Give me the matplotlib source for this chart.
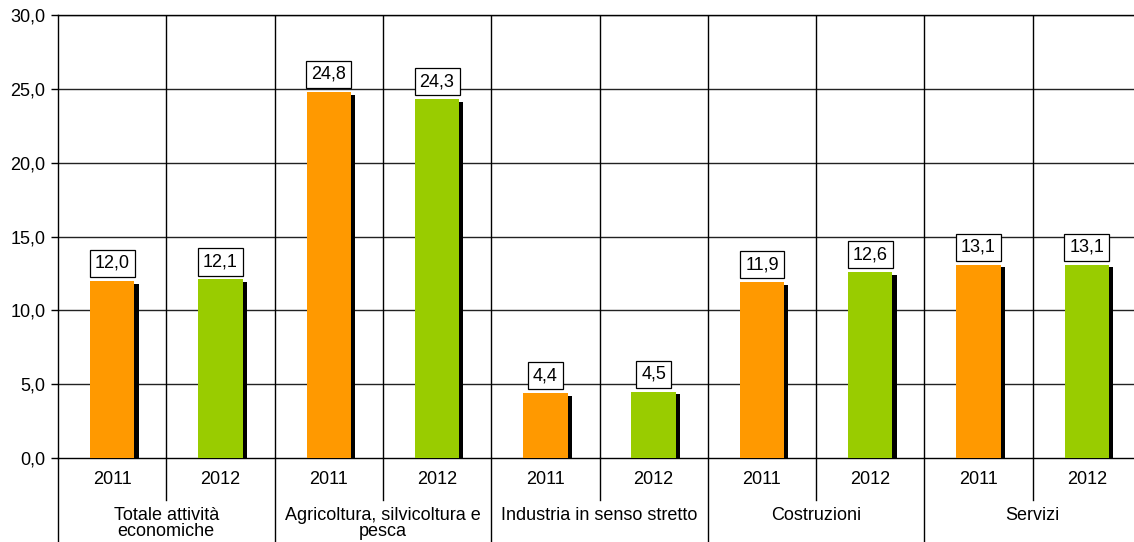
import numpy as np
import matplotlib
matplotlib.use('Agg')
import matplotlib.pyplot as plt
import matplotlib.patheffects as pe
import matplotlib.transforms as mtransforms

categories = ['Totale attività\neconomiche', 'Agricoltura, silvicoltura e\npesca',
              'Industria in senso stretto', 'Costruzioni', 'Servizi']
years = ['2011', '2012']
values_2011 = [12.0, 24.8, 4.4, 11.9, 13.1]
values_2012 = [12.1, 24.3, 4.5, 12.6, 13.1]
yticks = [0, 5, 10, 15, 20, 25, 30]

plt.rcParams['font.family'] = ['Liberation Sans', 'DejaVu Sans']

W, H = 1134, 542
fig = plt.figure(figsize=(W / 100, H / 100), dpi=100)
left, right, top, bottom = 58, 1141, 15, 458
ax = fig.add_axes([left / W, (H - bottom) / H, (right - left) / W, (bottom - top) / H])

n = len(categories)
x11 = np.arange(n) * 2
x12 = x11 + 1
shadow = [pe.SimplePatchShadow(offset=(3, -2), shadow_rgbFace='black', alpha=1), pe.Normal()]
b1 = ax.bar(x11, values_2011, width=0.41, color='#FF9900', zorder=3)
b2 = ax.bar(x12, values_2012, width=0.41, color='#99CC00', zorder=3)
for b in list(b1) + list(b2):
    b.set_path_effects(shadow)

for xs, vals in [(x11, values_2011), (x12, values_2012)]:
    for x, v in zip(xs, vals):
        ax.annotate(f'{v:.1f}'.replace('.', ','), (x, v), xytext=(0, 12.5), textcoords='offset points',
                    ha='center', va='center', fontsize=13, zorder=5,
                    bbox=dict(boxstyle='square,pad=0.28', fc='white', ec='black', lw=0.9))

ax.set_xlim(-0.5, 2 * n - 0.5)
ax.set_ylim(0, 30)
ax.set_yticks(yticks)
ax.set_yticklabels([f'{t:.1f}'.replace('.', ',') for t in yticks], fontsize=13)
ax.tick_params(axis='y', length=5, width=1, pad=4)
ax.set_xticks([])
for y in yticks[1:]:
    ax.axhline(y, color='#222222', lw=1, zorder=1)
for xb in np.arange(0.5, 2 * n - 0.5, 1):
    ax.axvline(xb, color='black', lw=1, zorder=1)
for s in ax.spines.values():
    s.set_linewidth(1)

tr = mtransforms.blended_transform_factory(ax.transData, ax.transAxes)
px = 1 / (bottom - top)
for i in range(n):
    for x, yr in [(x11[i], years[0]), (x12[i], years[1])]:
        ax.text(x, -22 * px, yr, transform=tr, ha='center', va='center', fontsize=13)
    ax.text(x11[i] + 0.5, -49 * px, categories[i], transform=tr, ha='center', va='top',
            fontsize=13, linespacing=0.95)
    ax.plot([x11[i] + 0.5] * 2, [0, -42 * px], transform=tr, color='black', lw=1, clip_on=False)
    ax.plot([x11[i] - 0.5] * 2, [0, -90 * px], transform=tr, color='black', lw=1, clip_on=False)

fig.savefig('out.png', dpi=100)
